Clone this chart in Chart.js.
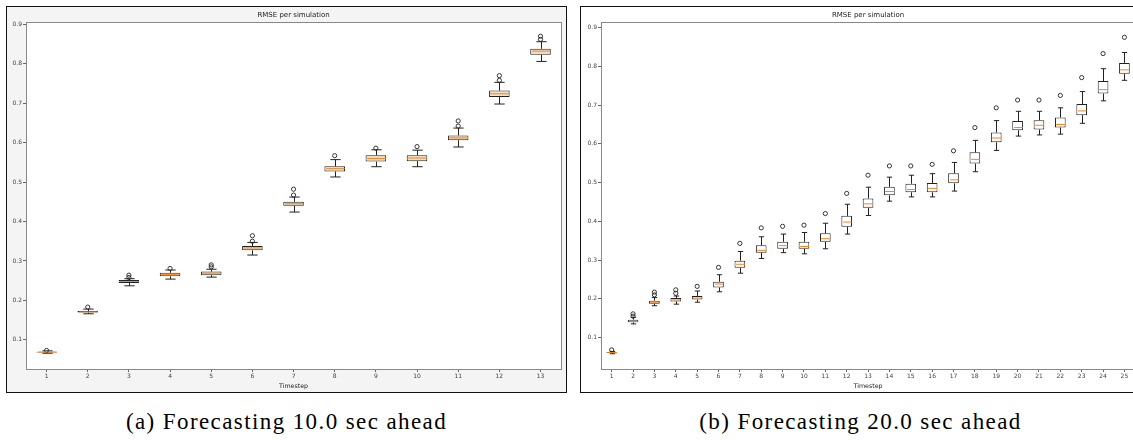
<!DOCTYPE html>
<html>
<head>
<meta charset="utf-8">
<script src="https://cdn.jsdelivr.net/npm/chart.js@4.4.0/dist/chart.umd.min.js"></script>
<style>
  body { margin: 0; width: 1133px; height: 440px; overflow: hidden; background: #fff; position: relative; }
  .painel { position: absolute; top: 6px; width: 561px; height: 387px; border: 1px solid #111; box-sizing: border-box; }
  #painelA { left: 6px; background: #f4f4f4; }
  #painelB { left: 580px; background: #fff; }
  .painel canvas { display: block; }
  .legenda { position: absolute; top: 410px; width: 561px; text-align: center; line-height: 23px;
             font-family: 'Liberation Serif', serif; font-size: 23px; letter-spacing: 1.4px; color: #000; white-space: nowrap; }
</style>
</head>
<body>
<div class="painel" id="painelA"><canvas id="graficoA" width="559" height="385"></canvas></div>
<div class="painel" id="painelB"><canvas id="graficoB" width="559" height="385"></canvas></div>
<div class="legenda" style="left:6px">(a) Forecasting 10.0 sec ahead</div>
<div class="legenda" style="left:580px">(b) Forecasting 20.0 sec ahead</div>

<script>
// ===== Dados: (a) previsão 10 s à frente =====
const passosA = ['1', '2', '3', '4', '5', '6', '7', '8', '9', '10', '11', '12', '13'];
const q1A = [0.068, 0.169, 0.244, 0.261, 0.264, 0.327, 0.440, 0.527, 0.552, 0.553, 0.606, 0.716, 0.823];
const medianaA = [0.069, 0.171, 0.248, 0.266, 0.269, 0.333, 0.445, 0.534, 0.560, 0.561, 0.612, 0.724, 0.832];
const q3A = [0.070, 0.173, 0.252, 0.270, 0.273, 0.338, 0.450, 0.540, 0.568, 0.568, 0.618, 0.732, 0.838];
const bigodeBaixoA = [0.066, 0.166, 0.237, 0.254, 0.259, 0.315, 0.424, 0.513, 0.539, 0.539, 0.589, 0.698, 0.806];
const bigodeAltoA = [0.072, 0.178, 0.255, 0.277, 0.279, 0.347, 0.462, 0.557, 0.582, 0.581, 0.637, 0.753, 0.856];
const outliersA = [
  [0.073], [0.183], [0.258, 0.264], [0.281], [0.285, 0.290], [0.350, 0.364], [0.467, 0.482],
  [0.567], [0.586], [0.590], [0.642, 0.655], [0.758, 0.770], [0.862, 0.870],
];

// ===== Dados: (b) previsão 20 s à frente =====
const passosB = ['1', '2', '3', '4', '5', '6', '7', '8', '9', '10', '11', '12', '13',
  '14', '15', '16', '17', '18', '19', '20', '21', '22', '23', '24', '25'];
const q1B = [0.060, 0.139, 0.187, 0.193, 0.198, 0.229, 0.280, 0.319, 0.329, 0.329, 0.347, 0.386, 0.435,
  0.467, 0.475, 0.475, 0.498, 0.549, 0.604, 0.635, 0.637, 0.642, 0.674, 0.730, 0.781];
const medianaB = [0.061, 0.141, 0.191, 0.197, 0.202, 0.238, 0.289, 0.325, 0.337, 0.335, 0.355, 0.398, 0.445,
  0.477, 0.482, 0.485, 0.507, 0.560, 0.615, 0.642, 0.648, 0.650, 0.685, 0.740, 0.791];
const q3B = [0.062, 0.146, 0.195, 0.202, 0.207, 0.244, 0.298, 0.338, 0.347, 0.347, 0.369, 0.414, 0.459,
  0.489, 0.497, 0.499, 0.524, 0.578, 0.629, 0.659, 0.661, 0.668, 0.703, 0.762, 0.809];
const bigodeBaixoB = [0.058, 0.135, 0.182, 0.186, 0.191, 0.218, 0.266, 0.304, 0.319, 0.316, 0.329, 0.367, 0.415,
  0.452, 0.463, 0.463, 0.478, 0.528, 0.583, 0.620, 0.623, 0.625, 0.653, 0.711, 0.764];
const bigodeAltoB = [0.064, 0.152, 0.203, 0.207, 0.220, 0.262, 0.322, 0.360, 0.367, 0.371, 0.395, 0.444, 0.488,
  0.514, 0.519, 0.523, 0.552, 0.609, 0.660, 0.684, 0.684, 0.693, 0.735, 0.794, 0.836];
const outliersB = [
  [0.068], [0.155, 0.161], [0.210, 0.217], [0.214, 0.223], [0.232], [0.281], [0.343], [0.383], [0.387],
  [0.390], [0.420], [0.472], [0.519], [0.543], [0.543], [0.547], [0.582], [0.642], [0.693], [0.713],
  [0.713], [0.725], [0.771], [0.833], [0.875],
];

// ===== Eixo y =====
const ticksY = [0.1, 0.2, 0.3, 0.4, 0.5, 0.6, 0.7, 0.8, 0.9];

const FONTE = 'DejaVu Sans, sans-serif';
const COR_MEDIANA = '#ff7f0e';
const COR_LINHA = '#222';

// ===== Plugin: fundo, bigodes, medianas, moldura e textos =====
function pluginBoxplot(s) {
  return {
    id: 'boxplot',
    beforeDraw(chart) {
      const { ctx, chartArea: a } = chart;
      ctx.save();
      ctx.fillStyle = '#ffffff';
      ctx.fillRect(a.left, a.top, a.right - a.left, a.bottom - a.top);
      ctx.restore();
    },
    afterDatasetsDraw(chart) {
      const { ctx, scales: { x, y } } = chart;
      const passo = x.getPixelForValue(1) - x.getPixelForValue(0);
      const meiaCaixa = passo * 0.25;
      const meiaTampa = passo * 0.125;
      ctx.save();
      ctx.lineWidth = 1;
      s.mediana.forEach((m, i) => {
        const cx = Math.round(x.getPixelForValue(i)) + 0.5;
        const yq1 = y.getPixelForValue(s.q1[i]);
        const yq3 = y.getPixelForValue(s.q3[i]);
        const yLo = y.getPixelForValue(s.baixo[i]);
        const yHi = y.getPixelForValue(s.alto[i]);
        ctx.strokeStyle = COR_LINHA;
        ctx.beginPath();
        ctx.moveTo(cx, yq1); ctx.lineTo(cx, yLo);
        ctx.moveTo(cx, yq3); ctx.lineTo(cx, yHi);
        ctx.moveTo(cx - meiaTampa, yLo); ctx.lineTo(cx + meiaTampa, yLo);
        ctx.moveTo(cx - meiaTampa, yHi); ctx.lineTo(cx + meiaTampa, yHi);
        ctx.stroke();
        const yMed = y.getPixelForValue(m);
        ctx.strokeStyle = COR_MEDIANA;
        ctx.beginPath();
        ctx.moveTo(cx - meiaCaixa + 1, yMed); ctx.lineTo(cx + meiaCaixa - 1, yMed);
        ctx.stroke();
      });
      ctx.restore();
    },
    afterDraw(chart) {
      const { ctx, chartArea: a } = chart;
      ctx.save();
      ctx.strokeStyle = '#888';
      ctx.lineWidth = 1;
      ctx.strokeRect(Math.round(a.left) + 0.5, Math.round(a.top) + 0.5,
        Math.round(a.right - a.left), Math.round(a.bottom - a.top));
      const cx = (a.left + a.right) / 2;
      ctx.fillStyle = '#222';
      ctx.textAlign = 'center';
      ctx.textBaseline = 'middle';
      ctx.font = '7px ' + FONTE;
      ctx.fillText('RMSE per simulation', cx, 8.5);
      ctx.font = '6.3px ' + FONTE;
      ctx.fillText('Timestep', cx, 379.5);
      ctx.restore();
    },
  };
}

// ===== Criação de cada gráfico =====
function criarGrafico(id, passos, s, yMin, yMax, corCaixa, larguraY) {
  const pontos = [];
  s.outliers.forEach((lista, i) => {
    lista.forEach((v) => pontos.push({ x: passos[i], y: v }));
  });

  const eixoComum = {
    grid: { display: true, drawOnChartArea: false, drawTicks: true, tickLength: 3, color: '#666', offset: false },
    border: { display: false },
    ticks: { font: { family: FONTE, size: 6 }, color: '#444', padding: 1 },
  };

  return new Chart(document.getElementById(id), {
    data: {
      labels: passos,
      datasets: [
        {
          type: 'bar',
          data: s.q1.map((v, i) => [v, s.q3[i]]),
          backgroundColor: corCaixa,
          borderColor: COR_LINHA,
          borderWidth: 1,
          borderSkipped: false,
          barPercentage: 0.5,
          categoryPercentage: 1,
        },
        {
          type: 'scatter',
          data: pontos,
          pointStyle: 'circle',
          pointRadius: 2.1,
          backgroundColor: 'rgba(0,0,0,0)',
          borderColor: COR_LINHA,
          borderWidth: 0.9,
        },
      ],
    },
    options: {
      responsive: false,
      animation: false,
      layout: { padding: { top: 15, right: 4, left: 0, bottom: 0 } },
      plugins: { legend: { display: false }, tooltip: { enabled: false }, title: { display: false } },
      scales: {
        x: {
          ...eixoComum,
          type: 'category',
          offset: true,
          ticks: { ...eixoComum.ticks, maxRotation: 0, autoSkip: false },
          afterFit: (sc) => { sc.height = 23; },
        },
        y: {
          ...eixoComum,
          type: 'linear',
          min: yMin,
          max: yMax,
          ticks: { ...eixoComum.ticks, callback: (v) => v.toFixed(1) },
          afterBuildTicks: (sc) => { sc.ticks = ticksY.map((v) => ({ value: v })); },
          afterFit: (sc) => { sc.width = larguraY; },
        },
      },
    },
    plugins: [pluginBoxplot(s)],
  });
}

criarGrafico('graficoA', passosA, {
  q1: q1A, mediana: medianaA, q3: q3A, baixo: bigodeBaixoA, alto: bigodeAltoA, outliers: outliersA,
}, 0.026, 0.906, '#efe2cc', 19);

criarGrafico('graficoB', passosB, {
  q1: q1B, mediana: medianaB, q3: q3B, baixo: bigodeBaixoB, alto: bigodeAltoB, outliers: outliersB,
}, 0.0186, 0.9146, '#ffffff', 20);
</script>
</body>
</html>
